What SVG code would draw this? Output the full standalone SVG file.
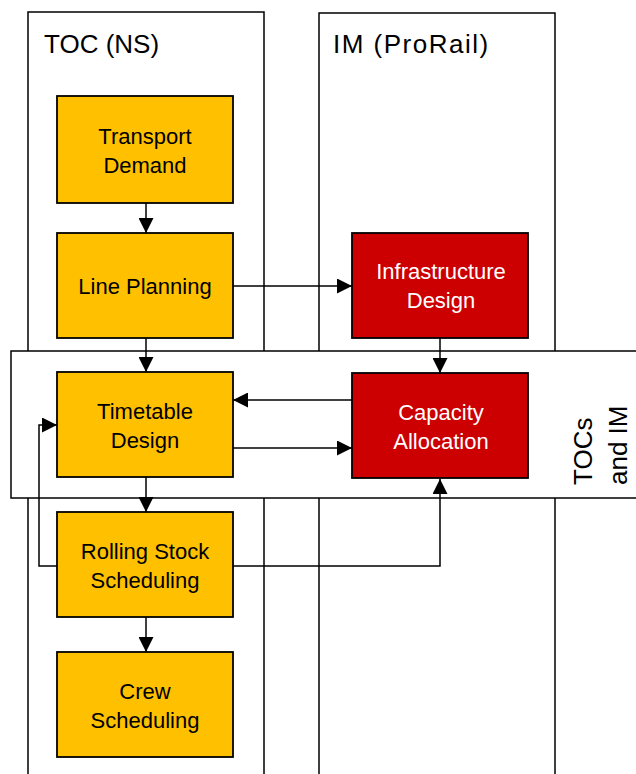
<svg xmlns="http://www.w3.org/2000/svg" width="636" height="774" viewBox="0 0 636 774">
<style>
.col{fill:none;stroke:#000;stroke-width:1.5}
.band{fill:#fff;stroke:#000;stroke-width:1.5}
.title{font-family:"Liberation Sans",Arial,sans-serif;font-size:26px;fill:#000}
.o{fill:#FFC000;stroke:#000;stroke-width:1.8}
.r{fill:#CC0000;stroke:#000;stroke-width:1.8}
.t{font-family:"Liberation Sans",Arial,sans-serif;font-size:22px;text-anchor:middle;fill:#000}
.tw{font-family:"Liberation Sans",Arial,sans-serif;font-size:22px;text-anchor:middle;fill:#fff}
.c{fill:none;stroke:#000;stroke-width:1.5}
</style>
<defs>
<marker id="ah" markerUnits="userSpaceOnUse" markerWidth="15" markerHeight="15" refX="15" refY="7.5" orient="auto">
<path d="M0,0 L15,7.5 L0,15 z" fill="#000"/>
</marker>
</defs>
<g id="lane-toc">
<path class="col" d="M28,774 V12 H264 V774"/>
<text class="title" x="44" y="53">TOC (NS)</text>
</g>
<g id="lane-im">
<path class="col" d="M319,774 V13 H555 V774"/>
<text class="title" x="333" y="53" letter-spacing="1.5">IM (ProRail)</text>
</g>
<g id="band-tocs-im">
<rect class="band" x="11" y="351" width="640" height="147"/>
<text class="title" transform="translate(592,485) rotate(-90)">TOCs</text>
<text class="title" transform="translate(627,485) rotate(-90)">and IM</text>
</g>
<g id="connectors">
<path class="c" d="M146,203 V233" marker-end="url(#ah)"/>
<path class="c" d="M146,338 V372" marker-end="url(#ah)"/>
<path class="c" d="M146,477 V512" marker-end="url(#ah)"/>
<path class="c" d="M146,617 V652" marker-end="url(#ah)"/>
<path class="c" d="M233,286 H352" marker-end="url(#ah)"/>
<path class="c" d="M440,338 V373" marker-end="url(#ah)"/>
<path class="c" d="M352,400 H233" marker-end="url(#ah)"/>
<path class="c" d="M233,448 H352" marker-end="url(#ah)"/>
<path class="c" d="M57,566 H39 V425 H57" marker-end="url(#ah)"/>
<path class="c" d="M233,566 H440 V479" marker-end="url(#ah)"/>
</g>
<g id="transport-demand">
<rect class="o" x="57" y="96" width="176" height="107"/>
<text class="t" x="145" y="144">Transport</text>
<text class="t" x="145" y="173">Demand</text>
</g>
<g id="line-planning">
<rect class="o" x="57" y="233" width="176" height="105"/>
<text class="t" x="145" y="294">Line Planning</text>
</g>
<g id="timetable-design">
<rect class="o" x="57" y="372" width="176" height="105"/>
<text class="t" x="145" y="419">Timetable</text>
<text class="t" x="145" y="448">Design</text>
</g>
<g id="rolling-stock-scheduling">
<rect class="o" x="57" y="512" width="176" height="105"/>
<text class="t" x="145" y="559">Rolling Stock</text>
<text class="t" x="145" y="588">Scheduling</text>
</g>
<g id="crew-scheduling">
<rect class="o" x="57" y="652" width="176" height="105"/>
<text class="t" x="145" y="699">Crew</text>
<text class="t" x="145" y="728">Scheduling</text>
</g>
<g id="infrastructure-design">
<rect class="r" x="352" y="233" width="176" height="105"/>
<text class="tw" x="441" y="279">Infrastructure</text>
<text class="tw" x="441" y="308">Design</text>
</g>
<g id="capacity-allocation">
<rect class="r" x="352" y="373" width="176" height="105"/>
<text class="tw" x="441" y="420">Capacity</text>
<text class="tw" x="441" y="449">Allocation</text>
</g>
</svg>
